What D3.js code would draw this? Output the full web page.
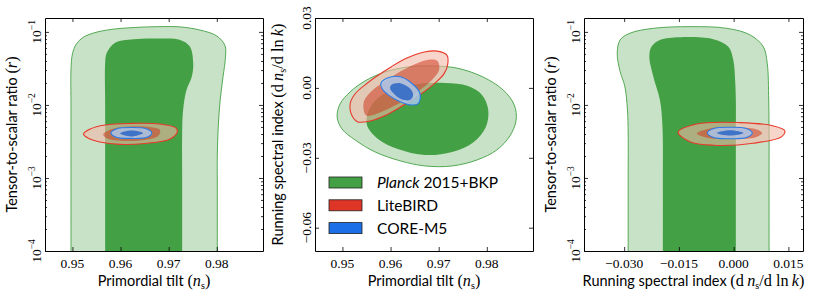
<!DOCTYPE html>
<html>
<head>
<meta charset="utf-8">
<script src="https://cdn.jsdelivr.net/npm/d3@7"></script>
<style>
html, body { margin: 0; padding: 0; background: #fff; }
svg { display: block; }
</style>
</head>
<body>
<svg id="chart" width="817" height="298"></svg>
<script>
// axis ranges and ticks
const nsDomain = [0.9443, 0.9896];
const rDomain = [1e-4, 0.155];
const runDomainY = [-0.07, 0.03];
const runDomainX = [-0.041, 0.019];
const nsTicks = [0.95, 0.96, 0.97, 0.98];
const rTicks = [1e-4, 1e-3, 1e-2, 1e-1];
const rTickExps = ['−4', '−3', '−2', '−1'];
const runTicksY = [-0.06, -0.03, 0.00, 0.03];
const runTicksX = [-0.030, -0.015, 0.000, 0.015];

// legend entries
const legendLabels = ['Planck', 'LiteBIRD', 'CORE-M5'];

// contours, panel 1: (n_s, r)
const planckNsR95 = [[0.9497, 2e-5], [0.9497, 1e-4], [0.9497, 1e-3], [0.9497, 0.01], [0.9497, 0.03], [0.9500, 0.05], [0.9508, 0.068], [0.9522, 0.084], [0.9545, 0.097], [0.9580, 0.108], [0.9630, 0.115], [0.9680, 0.118], [0.9724, 0.117], [0.9765, 0.106], [0.9800, 0.088], [0.9817, 0.065], [0.9818, 0.045], [0.9813, 0.0244], [0.9807, 0.0117], [0.9803, 0.005], [0.9801, 0.002], [0.9801, 1e-3], [0.9801, 1e-4], [0.9801, 2e-5]];
const planckNsR68 = [[0.9568, 2e-5], [0.9568, 1e-4], [0.9568, 1e-3], [0.9568, 0.01], [0.9568, 0.0372], [0.9571, 0.051], [0.9588, 0.0706], [0.9627, 0.0794], [0.9682, 0.081], [0.9724, 0.0776], [0.9744, 0.0629], [0.9751, 0.0372], [0.9748, 0.0244], [0.9737, 0.016], [0.9730, 0.00855], [0.9728, 0.0041], [0.9728, 1e-3], [0.9728, 1e-4], [0.9728, 2e-5]];
const litebirdNsR95 = [[0.9523, 0.0040], [0.9537, 0.00469], [0.9568, 0.00532], [0.9620, 0.00558], [0.9682, 0.00548], [0.9715, 0.00484], [0.9718, 0.00427], [0.9703, 0.00342], [0.9651, 0.00297], [0.9599, 0.00288], [0.9557, 0.00311], [0.9532, 0.00353]];
const litebirdNsR68 = [[0.9564, 0.00394], [0.9582, 0.00469], [0.9620, 0.00508], [0.9661, 0.00500], [0.9682, 0.00455], [0.9678, 0.00376], [0.9640, 0.00326], [0.9595, 0.00326], [0.9570, 0.00353]];
const coreNsR95 = [[0.9580, 0.00413], [0.9591, 0.00469], [0.9622, 0.00490], [0.9655, 0.00469], [0.9665, 0.00413], [0.9655, 0.00361], [0.9622, 0.00348], [0.9591, 0.00361]];
const coreNsR68 = [[0.9599, 0.00409], [0.9622, 0.00447], [0.9647, 0.00413], [0.9622, 0.00370]];

// contours, panel 2: (n_s, dn_s/dlnk)
const planckNsRun95 = [[0.9489, -0.0125], [0.9495, -0.0069], [0.9516, -0.0017], [0.9547, 0.0030], [0.9588, 0.0068], [0.9636, 0.0090], [0.9686, 0.0094], [0.9738, 0.0085], [0.9792, 0.0047], [0.9834, -0.0009], [0.9857, -0.0073], [0.9861, -0.0138], [0.9848, -0.0206], [0.9821, -0.0266], [0.9780, -0.0309], [0.9728, -0.0335], [0.9672, -0.0335], [0.9620, -0.0313], [0.9568, -0.0275], [0.9526, -0.0223], [0.9499, -0.0176]];
const planckNsRun68 = [[0.9551, -0.0159], [0.9555, -0.0095], [0.9574, -0.0043], [0.9609, -0.0005], [0.9657, 0.0017], [0.9713, 0.0021], [0.9761, 0.0008], [0.9790, -0.0030], [0.9803, -0.0095], [0.9798, -0.0168], [0.9773, -0.0232], [0.9728, -0.0275], [0.9672, -0.0288], [0.9615, -0.0262], [0.9574, -0.0219]];
const litebirdNsRun95 = [[0.9520, -0.0120], [0.9516, -0.0069], [0.9526, -0.0026], [0.9547, 0.0013], [0.9572, 0.0051], [0.9601, 0.0090], [0.9634, 0.0128], [0.9670, 0.0154], [0.9697, 0.0158], [0.9717, 0.0141], [0.9719, 0.0103], [0.9711, 0.0060], [0.9688, 0.0013], [0.9657, -0.0035], [0.9624, -0.0078], [0.9591, -0.0116], [0.9557, -0.0142], [0.9532, -0.0146]];
const litebirdNsRun68 = [[0.9545, -0.0103], [0.9545, -0.0056], [0.9561, -0.0013], [0.9586, 0.0025], [0.9615, 0.0064], [0.9647, 0.0098], [0.9676, 0.0120], [0.9697, 0.0116], [0.9701, 0.0077], [0.9686, 0.0034], [0.9661, -0.0009], [0.9630, -0.0052], [0.9599, -0.0086], [0.9570, -0.0112], [0.9551, -0.0120]];
const coreNsRun95 = [[0.9580, 0.0020], [0.9592, 0.0041], [0.9620, 0.0048], [0.9644, 0.0020], [0.9661, -0.0023], [0.9658, -0.0066], [0.9640, -0.0073], [0.9620, -0.0059], [0.9595, -0.0030], [0.9582, -0.0002]];
const coreNsRun68 = [[0.9602, 0.0013], [0.9620, 0.0020], [0.9640, -0.0002], [0.9647, -0.0030], [0.9640, -0.0052], [0.9623, -0.0049], [0.9606, -0.0023], [0.9599, -0.0002]];

// contours, panel 3: (dn_s/dlnk, r)
const planckRunR95 = [[-0.0289, 2e-5], [-0.0289, 1e-4], [-0.0289, 1e-3], [-0.0289, 0.004], [-0.0291, 0.0086], [-0.0298, 0.0178], [-0.0311, 0.0286], [-0.0319, 0.051], [-0.0311, 0.0776], [-0.0284, 0.096], [-0.0220, 0.112], [-0.0120, 0.118], [-0.0019, 0.112], [0.0045, 0.091], [0.0081, 0.0629], [0.0092, 0.0372], [0.0096, 0.0117], [0.0097, 0.004], [0.0097, 1e-3], [0.0097, 1e-4], [0.0097, 2e-5]];
const planckRunR68 = [[-0.0194, 2e-5], [-0.0194, 1e-4], [-0.0194, 1e-3], [-0.0195, 0.005], [-0.0202, 0.0117], [-0.0220, 0.0244], [-0.0231, 0.0459], [-0.0225, 0.0629], [-0.0202, 0.0776], [-0.0147, 0.0846], [-0.0056, 0.0794], [-0.0015, 0.0629], [-0.0001, 0.0413], [0.0004, 0.022], [0.0006, 0.0117], [0.0006, 0.004], [0.0006, 1e-3], [0.0006, 1e-4], [0.0006, 2e-5]];
const litebirdRunR95 = [[-0.0152, 0.00423], [-0.0101, 0.00549], [0.0017, 0.00573], [0.0109, 0.00516], [0.0140, 0.00445], [0.0132, 0.00368], [0.0054, 0.00299], [-0.0056, 0.00281], [-0.0120, 0.00314]];
const litebirdRunR68 = [[-0.0101, 0.00407], [-0.0065, 0.00477], [0.0004, 0.00492], [0.0059, 0.00469], [0.0078, 0.00413], [0.0059, 0.00359], [-0.0010, 0.00342], [-0.0070, 0.00353]];
const coreRunR95 = [[-0.0072, 0.00413], [-0.0055, 0.00475], [-0.0010, 0.00495], [0.0035, 0.00475], [0.0051, 0.00413], [0.0035, 0.00358], [-0.0010, 0.00345], [-0.0055, 0.00358]];
const coreRunR68 = [[-0.0046, 0.00413], [-0.0010, 0.00450], [0.0027, 0.00413], [-0.0010, 0.00380]];

const SANS = 'Lato, "Open Sans", sans-serif';
const SERIF = '"Liberation Serif", "DejaVu Serif", serif';

const styles = {
    planck:   { outer: '#c8e2c8', inner: '#44a044', outerOpacity: 1, innerOpacity: 1, stroke: '#44a044', legend: '#44a044' },
    litebird: { outer: '#f3b9a8', inner: '#cf3a22', outerOpacity: 0.6, innerOpacity: 0.55, stroke: '#e8392b', legend: '#df3527' },
    core:     { outer: '#a9c8ec', inner: '#2b66c4', outerOpacity: 0.85, innerOpacity: 0.85, stroke: '#2a7de8', legend: '#1c6fe6' }
};

const panels = [
    {
        left: 45, right: 263, xDomain: nsDomain, yDomain: rDomain, ylog: true,
        xTicks: nsTicks, xFormat: d3.format('.2f'), yTicks: rTicks,
        xLabel: 'ns', yLabel: 'r', yLabelX: 17, yTickX: 41,
        sets: [['planck', planckNsR95, planckNsR68], ['litebird', litebirdNsR95, litebirdNsR68], ['core', coreNsR95, coreNsR68]]
    },
    {
        left: 315, right: 533, xDomain: nsDomain, yDomain: runDomainY, ylog: false,
        xTicks: nsTicks, xFormat: d3.format('.2f'), yTicks: runTicksY, yFormat: d3.format('.2f'),
        xLabel: 'ns', yLabel: 'run', yLabelX: 283, yTickX: 311, legend: true,
        sets: [['planck', planckNsRun95, planckNsRun68], ['litebird', litebirdNsRun95, litebirdNsRun68], ['core', coreNsRun95, coreNsRun68]]
    },
    {
        left: 584, right: 803, xDomain: runDomainX, yDomain: rDomain, ylog: true,
        xTicks: runTicksX, xFormat: d3.format('.3f'), yTicks: rTicks,
        xLabel: 'run', yLabel: 'r', yLabelX: 556, yTickX: 580,
        sets: [['planck', planckRunR95, planckRunR68], ['litebird', litebirdRunR95, litebirdRunR68], ['core', coreRunR95, coreRunR68]]
    }
];

const plotTop = 18, plotBottom = 251;
const svg = d3.select('#chart');

// writes a label made of sans text and LaTeX-like math pieces
function writeLabel(text, kind, size) {
    const parts = [];
    if (kind === 'ns') {
        parts.push({ t: 'Primordial tilt ', f: SANS });
        parts.push({ t: '(', f: SERIF });
        parts.push({ t: 'n', f: SERIF, i: true });
        parts.push({ t: 's', f: SERIF, sub: true });
        parts.push({ t: ')', f: SERIF });
    } else if (kind === 'r') {
        parts.push({ t: 'Tensor-to-scalar ratio ', f: SANS });
        parts.push({ t: '(', f: SERIF });
        parts.push({ t: 'r', f: SERIF, i: true });
        parts.push({ t: ')', f: SERIF });
    } else {
        parts.push({ t: 'Running spectral index ', f: SANS });
        parts.push({ t: '(d\u2009', f: SERIF });
        parts.push({ t: 'n', f: SERIF, i: true });
        parts.push({ t: 's', f: SERIF, sub: true });
        parts.push({ t: '/d ln\u2009', f: SERIF });
        parts.push({ t: 'k', f: SERIF, i: true });
        parts.push({ t: ')', f: SERIF });
    }
    let shifted = false;
    parts.forEach(p => {
        const ts = text.append('tspan').text(p.t).attr('font-family', p.f)
            .attr('font-size', p.sub ? size * 0.7 : (p.f === SERIF ? size * 1.12 : size))
            .attr('font-style', p.i ? 'italic' : 'normal');
        if (p.sub) { ts.attr('dy', 3); shifted = true; }
        else if (shifted) { ts.attr('dy', -3); shifted = false; }
    });
}

panels.forEach((p, pi) => {
    const x = d3.scaleLinear().domain(p.xDomain).range([p.left, p.right]);
    const y = (p.ylog ? d3.scaleLog() : d3.scaleLinear()).domain(p.yDomain).range([plotBottom, plotTop]);
    const g = svg.append('g').attr('class', 'panel');

    const clipId = 'clip' + pi;
    svg.append('clipPath').attr('id', clipId).append('rect')
        .attr('x', p.left).attr('y', plotTop).attr('width', p.right - p.left).attr('height', plotBottom - plotTop);

    const line = d3.line().x(d => x(d[0])).y(d => y(d[1])).curve(d3.curveCatmullRomClosed.alpha(0.5));
    const plot = g.append('g').attr('clip-path', `url(#${clipId})`);

    p.sets.forEach(([key, outer, inner]) => {
        const s = styles[key];
        plot.append('path').attr('d', line(outer)).attr('fill', s.outer).attr('fill-opacity', s.outerOpacity)
            .attr('stroke', 'none');
        plot.append('path').attr('d', line(inner)).attr('fill', s.inner).attr('fill-opacity', s.innerOpacity)
            .attr('stroke', 'none');
        plot.append('path').attr('d', line(outer)).attr('fill', 'none').attr('stroke', s.stroke)
            .attr('stroke-width', key === 'planck' ? 0.9 : 1.1);
    });

    // frame + inward ticks on all four sides
    const axes = g.append('g').attr('class', 'axes');
    const mk = (gen, tr) => axes.append('g').attr('transform', tr).call(gen);
    mk(d3.axisBottom(x).tickValues(p.xTicks).tickSize(-4).tickSizeOuter(0).tickFormat(''), `translate(0,${plotBottom})`);
    mk(d3.axisTop(x).tickValues(p.xTicks).tickSize(-4).tickSizeOuter(0).tickFormat(''), `translate(0,${plotTop})`);
    mk(d3.axisLeft(y).tickValues(p.yTicks).tickSize(-4).tickSizeOuter(0).tickFormat(''), `translate(${p.left},0)`);
    mk(d3.axisRight(y).tickValues(p.yTicks).tickSize(-4).tickSizeOuter(0).tickFormat(''), `translate(${p.right},0)`);
    if (p.ylog) {
        const minor = y.ticks().filter(v => !rTicks.some(t => Math.abs(t - v) / t < 1e-6));
        const mkMinor = (gen, tr) => axes.append('g').attr('transform', tr).call(gen)
            .call(a => a.select('.domain').remove());
        mkMinor(d3.axisLeft(y).tickValues(minor).tickSize(-2).tickFormat(''), `translate(${p.left},0)`);
        mkMinor(d3.axisRight(y).tickValues(minor).tickSize(-2).tickFormat(''), `translate(${p.right},0)`);
    }
    axes.selectAll('path.domain').attr('stroke', '#000').attr('stroke-width', 1);
    axes.selectAll('.tick line').attr('stroke', '#000').attr('stroke-width', 0.8);

    // x tick labels
    g.append('g').selectAll('text').data(p.xTicks).join('text')
        .attr('x', d => x(d)).attr('y', plotBottom + 17)
        .attr('text-anchor', 'middle').attr('font-family', SERIF).attr('font-size', 13.5)
        .text(d => p.xFormat(d));

    // y tick labels, rotated
    const yl = g.append('g').selectAll('text').data(p.yTicks).join('text')
        .attr('transform', d => `translate(${p.yTickX},${y(d)}) rotate(-90)`)
        .attr('text-anchor', 'middle').attr('font-family', SERIF).attr('font-size', 13.5);
    if (p.ylog) {
        yl.each(function (d, i) {
            const t = d3.select(this);
            t.append('tspan').text('10');
            t.append('tspan').text(rTickExps[i]).attr('font-size', 9.5).attr('dy', -6);
        });
    } else {
        yl.text(d => p.yFormat(d));
    }

    // axis labels
    const xl = g.append('text').attr('x', (p.left + p.right) / 2).attr('y', plotBottom + 35)
        .attr('text-anchor', 'middle').attr('fill', '#000');
    writeLabel(xl, p.xLabel, 14.5);
    const ylab = g.append('text')
        .attr('transform', `translate(${p.yLabelX},${(plotTop + plotBottom) / 2}) rotate(-90)`)
        .attr('text-anchor', 'middle').attr('fill', '#000');
    writeLabel(ylab, p.yLabel, 14.5);

    if (p.legend) {
        const lg = g.append('g').attr('transform', `translate(${p.left + 14},177)`);
        const keys = ['planck', 'litebird', 'core'];
        const rows = lg.selectAll('g').data(keys).join('g')
            .attr('transform', (d, i) => `translate(0,${i * 22.8})`);
        rows.append('rect').attr('width', 33).attr('height', 11)
            .attr('fill', d => styles[d].legend).attr('stroke', '#222').attr('stroke-width', 0.8);
        const txt = rows.append('text').attr('x', 48).attr('y', 11)
            .attr('font-family', SANS).attr('font-size', 15.5);
        txt.each(function (d, i) {
            const t = d3.select(this);
            if (i === 0) {
                t.append('tspan').text(legendLabels[0]).attr('font-style', 'italic');
                t.append('tspan').text(' 2015+BKP');
            } else {
                t.text(legendLabels[i]);
            }
        });
    }
});
</script>
</body>
</html>
